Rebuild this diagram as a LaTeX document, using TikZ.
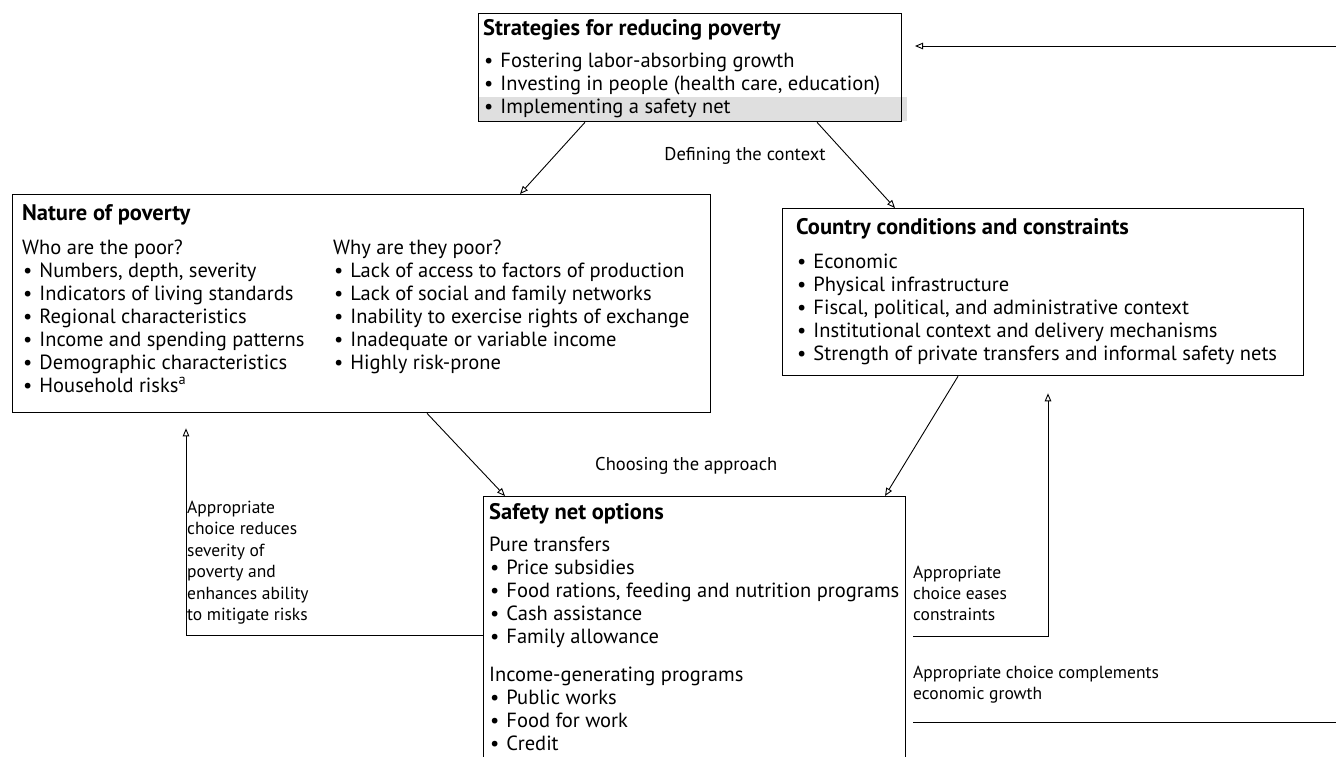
\documentclass[tikz,border=0pt]{standalone}
\usepackage{fontspec}
\setmainfont{PT Sans}
\usetikzlibrary{arrows.meta}
\newcommand\itemdot{\textbullet\hspace{7pt}}
\begin{document}
\begin{tikzpicture}[x=1pt,y=-1pt,
  box/.style={draw, line width=1.3pt, inner sep=0pt, anchor=north west},
  ttl/.style={anchor=base west, inner sep=0pt, font=\fontsize{22.5}{24}\bfseries\selectfont},
  itm/.style={anchor=base west, inner sep=0pt, font=\fontsize{20.5}{23}\selectfont},
  lbl/.style={anchor=base west, inner sep=0pt, font=\fontsize{17.5}{21}\selectfont},
  conn/.style={line width=0.9pt, -{Triangle[open,length=8pt,width=6.5pt]}},
  plain/.style={line width=0.9pt}
]
\useasboundingbox (0,0) rectangle (1336,756);
\clip (0,0) rectangle (1336,756);

% shading behind last strategy line
\fill[gray!25] (479,97) rectangle (907,121);

% boxes
\node[box, minimum width=423pt, minimum height=108pt] (strat) at (478,13) {};
\node[box, minimum width=698pt, minimum height=218pt] (nat) at (12,194) {};
\node[box, minimum width=521pt, minimum height=167pt] (cty) at (782,208) {};
\node[box, minimum width=422pt, minimum height=300pt] (safe) at (483,496) {};

% Strategies
\node[ttl] (stt) at (483,35) {Strategies for reducing poverty};
\foreach \t [count=\i] in {Fostering labor-absorbing growth,
  {Investing in people (health care, education)},
  Implementing a safety net}
  \node[itm] (st\i) at (484,44+23*\i) {\itemdot\t};

% Nature of poverty
\node[ttl] (ntt) at (22,220) {Nature of poverty};
\node[itm] (nwho) at (22,254) {Who are the poor?};
\foreach \t [count=\i] in {{Numbers, depth, severity},
  Indicators of living standards, Regional characteristics,
  Income and spending patterns, Demographic characteristics,
  Household risks\textsuperscript{a}}
  \node[itm] (nl\i) at (23,254+23*\i) {\itemdot\t};
\node[itm] (nwhy) at (333,254) {Why are they poor?};
\foreach \t [count=\i] in {Lack of access to factors of production,
  Lack of social and family networks,
  Inability to exercise rights of exchange,
  Inadequate or variable income, Highly risk-prone}
  \node[itm] (nr\i) at (334,254+23*\i) {\itemdot\t};

% Country conditions
\node[ttl] (ctt) at (796,234) {Country conditions and constraints};
\foreach \t [count=\i] in {Economic, Physical infrastructure,
  {Fiscal, political, and administrative context},
  Institutional context and delivery mechanisms,
  Strength of private transfers and informal safety nets}
  \node[itm] (c\i) at (797,245+23*\i) {\itemdot\t};

% Safety net options
\node[ttl] (sft) at (489,519) {Safety net options};
\node[itm] (spure) at (489,551) {Pure transfers};
\foreach \t [count=\i] in {Price subsidies,
  {Food rations, feeding and nutrition programs},
  Cash assistance, Family allowance}
  \node[itm] (sp\i) at (490,551+23*\i) {\itemdot\t};
\node[itm] (sinc) at (489,681) {Income-generating programs};
\foreach \t [count=\i] in {Public works, Food for work, Credit}
  \node[itm] (si\i) at (490,681+23*\i) {\itemdot\t};

% free labels
\node[itm, anchor=base, font=\fontsize{18.5}{22}\selectfont] (ldef) at (745,160) {Defining the context};
\node[itm, font=\fontsize{18.5}{22}\selectfont] (lcho) at (595,470) {Choosing the approach};
\foreach \t [count=\i] in {Appropriate, choice reduces, severity of,
  poverty and, enhances ability, to mitigate risks}
  \node[lbl] (lr\i) at (187,492+21.4*\i) {\t};
\foreach \t [count=\i] in {Appropriate, choice eases, constraints}
  \node[lbl] (le\i) at (913,557+21*\i) {\t};
\node[lbl] (lc1) at (913,678) {Appropriate choice complements};
\node[lbl] (lc2) at (913,699) {economic growth};

% connectors
\coordinate (rin) at (1336,46);
\coordinate (rtip) at (915,46);
\draw[conn] (rin) -- (rtip);
\draw[conn] ([xshift=107pt]strat.south west) -- ([xshift=508pt]nat.north west);
\draw[conn] ([xshift=339pt]strat.south west) -- ([xshift=113pt]cty.north west);
\draw[conn] ([xshift=415pt]nat.south west) -- ([xshift=22pt]safe.north west);
\draw[conn] ([xshift=176pt]cty.south west) -- ([xshift=402pt]safe.north west);
\draw[conn] ([yshift=-139pt]safe.north west) -| ([xshift=174pt,yshift=-15pt]nat.south west);
\coordinate (ease0) at (913,636);
\draw[conn] (ease0) -| ([xshift=266pt,yshift=-17pt]cty.south west);
\coordinate (comp0) at (913,722);
\coordinate (comp1) at (1336,722);
\draw[plain] (comp0) -- (comp1);
\end{tikzpicture}
\end{document}
